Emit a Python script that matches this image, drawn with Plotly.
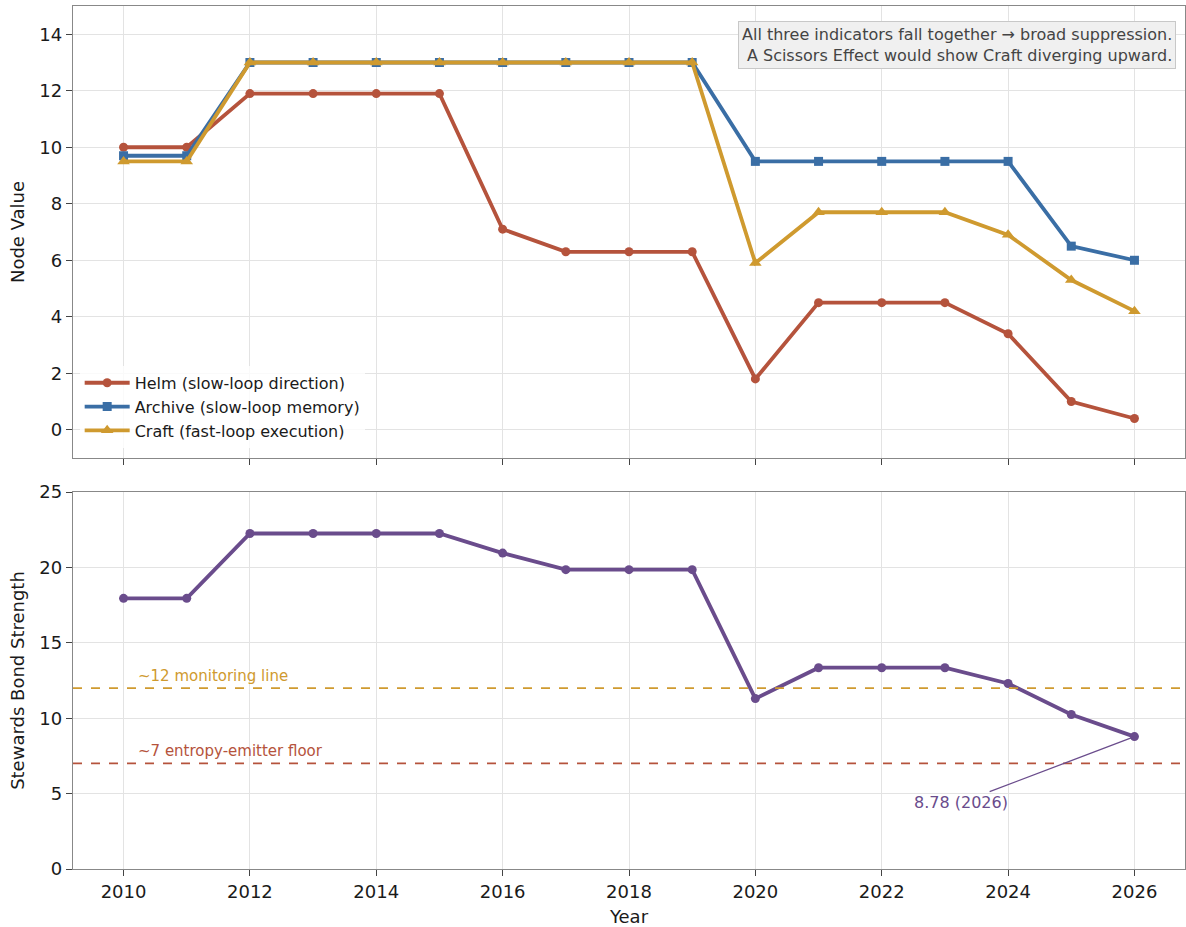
import plotly.graph_objects as go
from plotly.subplots import make_subplots

years = list(range(2010, 2027))
helm = [10.0, 10.0, 11.9, 11.9, 11.9, 11.9, 7.1, 6.3, 6.3, 6.3, 1.8, 4.5, 4.5, 4.5, 3.4, 1.0, 0.4]
archive = [9.7, 9.7, 13.0, 13.0, 13.0, 13.0, 13.0, 13.0, 13.0, 13.0, 9.5, 9.5, 9.5, 9.5, 9.5, 6.5, 6.0]
craft = [9.5, 9.5, 13.0, 13.0, 13.0, 13.0, 13.0, 13.0, 13.0, 13.0, 5.9, 7.7, 7.7, 7.7, 6.9, 5.3, 4.2]
bond = [17.95, 17.95, 22.25, 22.25, 22.25, 22.25, 20.95, 19.85, 19.85, 19.85, 11.3, 13.35, 13.35, 13.35, 12.3, 10.25, 8.78]

series_names = ["Helm (slow-loop direction)", "Archive (slow-loop memory)", "Craft (fast-loop execution)"]
series_colors = ["#b5533c", "#3a6ea5", "#cf9a2f"]
series_symbols = ["circle", "square", "triangle-up"]
bond_color = "#6a4c8c"
monitor_level = 12
floor_level = 7

FONT = "DejaVu Sans"
TXT = "#1a1a1a"

fig = make_subplots(rows=2, cols=1, shared_xaxes=False, vertical_spacing=0.04)

for name, vals, col, sym in zip(series_names, [helm, archive, craft], series_colors, series_symbols):
    fig.add_trace(go.Scatter(x=years, y=vals, name=name, mode="lines+markers",
                             line=dict(color=col, width=3.8),
                             marker=dict(symbol=sym, size=9 if sym != "triangle-up" else 11, color=col)),
                  row=1, col=1)

fig.add_trace(go.Scatter(x=years, y=bond, mode="lines+markers", showlegend=False,
                         line=dict(color=bond_color, width=3.8),
                         marker=dict(symbol="circle", size=9, color=bond_color)),
              row=2, col=1)

fig.add_hline(y=monitor_level, line=dict(color="#cf9a2f", width=1.8, dash="dash"), row=2, col=1)
fig.add_hline(y=floor_level, line=dict(color="#b5533c", width=1.8, dash="dash"), row=2, col=1)

fig.add_annotation(x=2010.2, y=monitor_level, xref="x2", yref="y2", text="~12 monitoring line",
                   showarrow=False, xanchor="left", yanchor="bottom", yshift=1,
                   font=dict(family=FONT, size=15, color="#cf9a2f"))
fig.add_annotation(x=2010.2, y=floor_level, xref="x2", yref="y2", text="~7 entropy-emitter floor",
                   showarrow=False, xanchor="left", yanchor="bottom", yshift=1,
                   font=dict(family=FONT, size=15, color="#b5533c"))

fig.add_annotation(x=years[-1], y=bond[-1], xref="x2", yref="y2",
                   ax=2023.25, ay=4.4, axref="x2", ayref="y2",
                   text=f"{bond[-1]:.2f} ({years[-1]})", showarrow=True, arrowhead=0,
                   arrowwidth=1.3, arrowcolor=bond_color,
                   font=dict(family=FONT, size=16, color=bond_color))

fig.add_annotation(x=0.9915, y=0.983, xref="paper", yref="paper",
                   text="All three indicators fall together → broad suppression.<br>A Scissors Effect would show Craft diverging upward.",
                   showarrow=False, xanchor="right", yanchor="top", align="right",
                   bgcolor="#f0f0f0", bordercolor="#c8c8c8", borderwidth=1, borderpad=3,
                   font=dict(family=FONT, size=16, color="#444444"))

axis_common = dict(showline=True, mirror=True, linecolor="#888888", linewidth=1.3,
                   showgrid=True, gridcolor="#e3e3e3", gridwidth=1, zeroline=False,
                   ticks="outside", ticklen=6, tickcolor="#444444", automargin=False,
                   tickfont=dict(family=FONT, size=18, color=TXT))

fig.update_xaxes(**axis_common)
fig.update_yaxes(**axis_common)

fig.update_xaxes(range=[2009.2, 2026.8], dtick=2, tick0=2010, showticklabels=False,
                 domain=[0, 1], row=1, col=1)
fig.update_xaxes(range=[2009.2, 2026.8], dtick=2, tick0=2010, domain=[0, 1],
                 title=dict(text="Year", font=dict(family=FONT, size=18, color=TXT), standoff=9),
                 row=2, col=1)
fig.update_yaxes(range=[-1, 15], dtick=2, tick0=0, domain=[0.4762, 1],
                 title=dict(text="Node Value", font=dict(family=FONT, size=18, color=TXT), standoff=10),
                 row=1, col=1)
fig.update_yaxes(range=[0, 25], dtick=5, domain=[0, 0.4368],
                 title=dict(text="Stewards Bond Strength", font=dict(family=FONT, size=18, color=TXT), standoff=10),
                 row=2, col=1)

fig.update_layout(width=1186, height=927,
                  margin=dict(l=73, r=1, t=6, b=58, autoexpand=False),
                  plot_bgcolor="white", paper_bgcolor="white",
                  font=dict(family=FONT, size=16, color=TXT),
                  legend=dict(x=0.006, y=0.488, xanchor="left", yanchor="bottom",
                              bgcolor="rgba(255,255,255,0.8)", borderwidth=0,
                              font=dict(family=FONT, size=16, color=TXT),
                              itemwidth=45, tracegroupgap=0))

page_fix = (
    "document.documentElement.style.margin='0';"
    "document.documentElement.style.overflow='hidden';"
    "document.body.style.margin='0';"
    "document.body.style.overflow='hidden';"
)

fig.write_html("out.html", config={"displayModeBar": False}, post_script=page_fix)
